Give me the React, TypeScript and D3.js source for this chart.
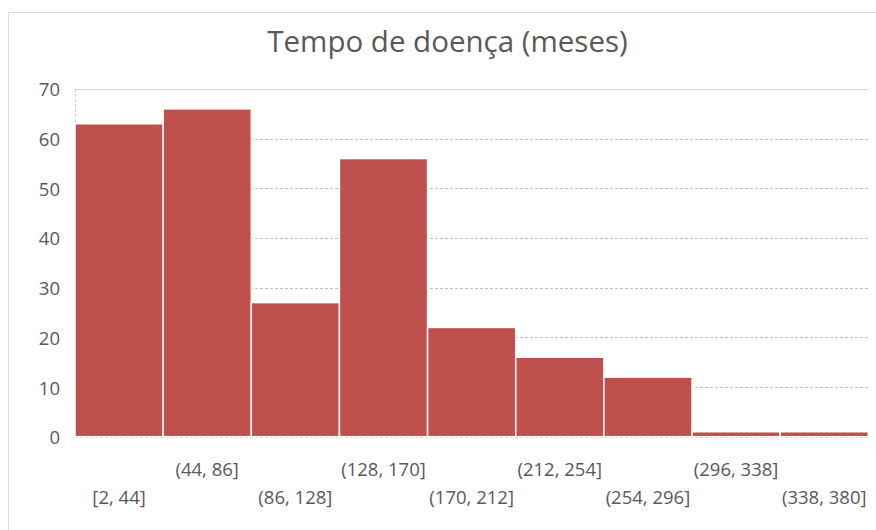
import React from "react";
import * as d3 from "d3";

const title = "Tempo de doença (meses)";
const categories = ["[2, 44]", "(44, 86]", "(86, 128]", "(128, 170]", "(170, 212]", "(212, 254]", "(254, 296]", "(296, 338]", "(338, 380]"];
const counts = [63, 66, 27, 56, 22, 16, 12, 1, 1];
const yTicks = [0, 10, 20, 30, 40, 50, 60, 70];

const W = 876;
const H = 530;
const plotLeft = 75;
const plotRight = 868.3;
const plotTop = 89;
const plotBottom = 436.7;
const FONT = "'Open Sans', 'DejaVu Sans', sans-serif";
const TEXT = "#595959";

export default function App() {
  const x = d3.scaleBand<string>().domain(categories).range([plotLeft, plotRight]).padding(0);
  const y = d3.scaleLinear().domain([0, 70]).range([plotBottom, plotTop]);

  return (
    <svg
      width={W}
      height={H}
      style={{ position: "absolute", left: 0, top: 0, background: "#fff" }}
      fontFamily={FONT}
    >
      <rect x={0} y={0} width={W} height={H} fill="#fff" />
      {/* chart frame */}
      <rect x={8.5} y={12.5} width={W + 10} height={H + 10} fill="none" stroke="#d9d9d9" strokeWidth={1} />
      <text x={447.5} y={51.5} textAnchor="middle" fontSize={29.5} fill={TEXT}>
        {title}
      </text>
      {/* gridlines */}
      {yTicks.map((t) => (
        <line
          key={"g" + t}
          x1={plotLeft}
          x2={plotRight}
          y1={Math.round(y(t)) + 0.5}
          y2={Math.round(y(t)) + 0.5}
          stroke={t === 70 ? "#d9d9d9" : "#bfbfbf"}
          strokeDasharray={t === 70 ? undefined : "3,2"}
          strokeWidth={1}
        />
      ))}
      <line x1={plotLeft + 0.5} x2={plotLeft + 0.5} y1={plotTop} y2={plotBottom} stroke="#d0d0d0" strokeDasharray="3,2" />
      {/* bars */}
      {categories.map((c, i) => (
        <rect
          key={c}
          x={x(c)!}
          y={y(counts[i])}
          width={x.bandwidth()}
          height={y(0) - y(counts[i])}
          fill="#c0504d"
          stroke="#fff"
          strokeWidth={1.5}
        />
      ))}
      {/* y axis labels */}
      {yTicks.map((t) => (
        <text key={"y" + t} x={60} y={y(t) + 1} dy="0.35em" textAnchor="end" fontSize={18.5} fill={TEXT}>
          {t}
        </text>
      ))}
      {/* x labels */}
      {categories.map((c, i) => (
        <text
          key={"x" + c}
          x={x(c)! + x.bandwidth() / 2}
          y={i % 2 === 1 ? 476 : 503.5}
          textAnchor="middle"
          fontSize={18.5}
          fill={TEXT}
        >
          {c}
        </text>
      ))}
    </svg>
  );
}
